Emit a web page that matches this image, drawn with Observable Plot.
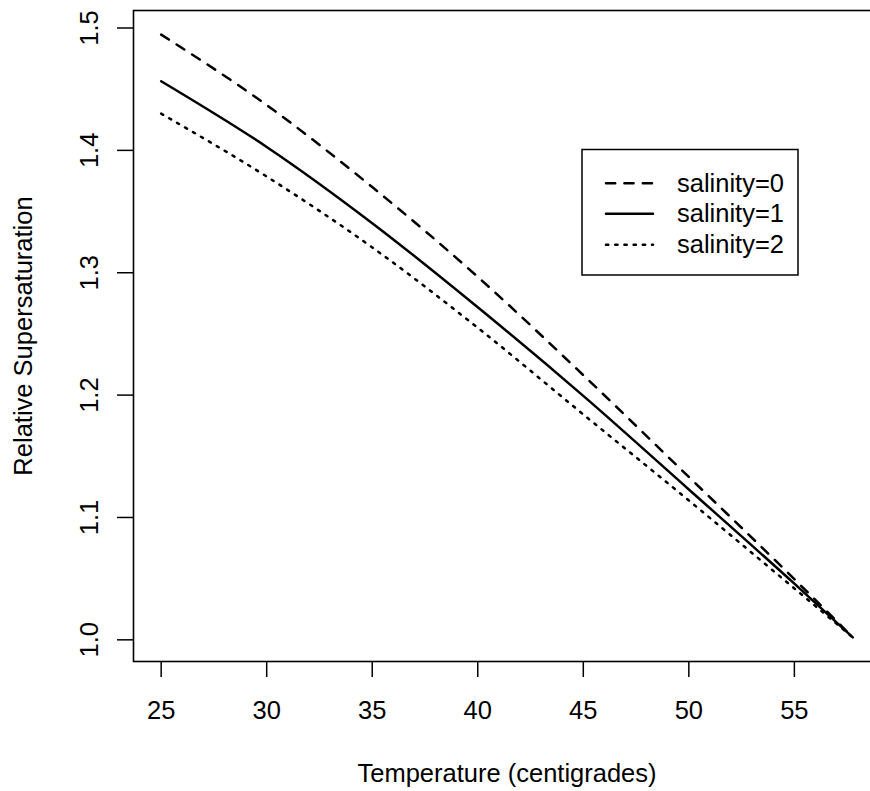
<!DOCTYPE html>
<html>
<head>
<meta charset="utf-8">
<script src="https://cdn.jsdelivr.net/npm/d3@7"></script>
<script src="https://cdn.jsdelivr.net/npm/@observablehq/plot@0.6"></script>
<style>
  html, body { margin: 0; padding: 0; background: #fff; overflow: hidden; }
  #wrap { width: 870px; height: 791px; overflow: hidden; position: relative; }
  #wrap svg { max-width: none !important; width: 882px !important; height: 791px !important; display: block; }
</style>
</head>
<body>
<div id="wrap"></div>
<script>
// Temperature (centigrades)
const temps = [25, 30, 35, 40, 45, 50, 55, 57.77];
// Relative supersaturation for each salinity
const sal0 = [1.4946, 1.437, 1.370, 1.2966, 1.2163, 1.1331, 1.0496, 1.002];
const sal1 = [1.4565, 1.4028, 1.3405, 1.2718, 1.1994, 1.1229, 1.0459, 1.002];
const sal2 = [1.430, 1.3786, 1.3207, 1.2550, 1.1842, 1.1139, 1.0420, 1.002];
const seriesNames = ["salinity=0", "salinity=1", "salinity=2"];
const xTicks = [25, 30, 35, 40, 45, 50, 55];
const yTicks = [1.0, 1.1, 1.2, 1.3, 1.4, 1.5];
const dashes = ["9.2,9.2", null, "2.3,6.9"];

const allSeries = [sal0, sal1, sal2];
const rows = allSeries.map((vals, i) => temps.map((t, j) => ({t, v: vals[j], s: seriesNames[i]})));

// R-style 4% padding of the data range
function pad(ext) { const d = (ext[1] - ext[0]) * 0.04; return [ext[0] - d, ext[1] + d]; }
const xDom = pad(d3.extent(temps));
const yDom = pad(d3.extent(allSeries.flat()));

const font = "'Liberation Sans', Arial, Helvetica, sans-serif";
const fs = 25.5;

const lineMarks = rows.map((r, i) => Plot.line(r, {
  x: "t", y: "v", stroke: "#000", strokeWidth: 2.5,
  strokeLinecap: "round", strokeLinejoin: "round",
  strokeDasharray: dashes[i] || undefined,
  curve: "monotone-x"
}));

const chart = Plot.plot({
  width: 882,
  height: 791,
  marginLeft: 133,
  marginRight: 2,
  marginTop: 10,
  marginBottom: 130,
  style: {fontFamily: font, fontSize: fs + "px", background: "#fff", color: "#000"},
  x: {domain: xDom},
  y: {domain: yDom},
  marks: [
    Plot.frame({stroke: "#000", strokeWidth: 1.6}),
    Plot.axisX({
      ticks: xTicks, tickFormat: d => String(d), tickSize: 16, tickPadding: 23,
      strokeWidth: 1.5, fontSize: fs,
      label: "Temperature (centigrades)", labelAnchor: "center", labelOffset: 120, labelArrow: "none"
    }),
    Plot.axisY({
      ticks: yTicks, tickFormat: d => d.toFixed(1), tickSize: 16, tickPadding: 20,
      tickRotate: -90, strokeWidth: 1.5, fontSize: fs,
      label: "Relative Supersaturation", labelAnchor: "center", labelOffset: 120, labelArrow: "none"
    }),
    ...lineMarks
  ]
});

document.getElementById("wrap").appendChild(chart);

// Legend (R-style boxed legend inside the plot)
const svg = d3.select(chart);
const lg = svg.append("g").attr("font-family", font).attr("font-size", fs + "px").attr("text-anchor", "start");
lg.append("rect").attr("x", 582).attr("y", 149.5).attr("width", 216).attr("height", 125.5)
  .attr("fill", "#fff").attr("stroke", "#000").attr("stroke-width", 1.5);
const rowY = [183.3, 213.8, 244.8];
seriesNames.forEach((name, i) => {
  const ln = lg.append("line").attr("x1", 606).attr("x2", 653).attr("y1", rowY[i]).attr("y2", rowY[i])
    .attr("stroke", "#000").attr("stroke-width", 2.5).attr("stroke-linecap", "round");
  if (dashes[i]) ln.attr("stroke-dasharray", dashes[i]);
  lg.append("text").attr("x", 677).attr("y", rowY[i] + 8.5).attr("fill", "#000").attr("text-anchor", "start").text(name);
});
</script>
</body>
</html>
